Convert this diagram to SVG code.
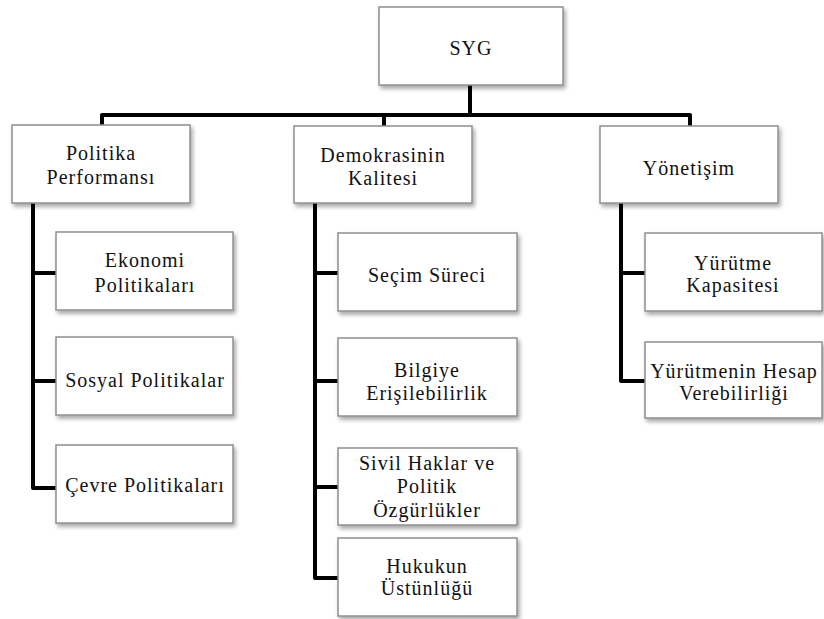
<svg xmlns="http://www.w3.org/2000/svg" width="824" height="619" viewBox="0 0 824 619" font-family="Liberation Serif, Tinos, Times New Roman, serif">
<defs>
<filter id="sh" x="-10%" y="-10%" width="130%" height="140%">
<feDropShadow dx="2" dy="3" stdDeviation="2" flood-color="#000" flood-opacity="0.35"/>
</filter>
</defs>
<style>
.box{fill:#fff;stroke:#8f8f8f;stroke-width:1.5;filter:url(#sh)}
.t{font-size:20px;letter-spacing:1px;fill:#111;text-anchor:middle}
.c{fill:none;stroke:#000;stroke-width:4;stroke-linejoin:round}
</style>
<g id="connectors">
<path class="c" d="M470,85 V115 M102,125 V115 H690 V126 M384,115 V126"/>
<path class="c" d="M33,203 V488 H56 M33,273 H56 M33,381 H56"/>
<path class="c" d="M315,203 V578 H338 M315,273 H338 M315,381 H338 M315,487 H338"/>
<path class="c" d="M621,203 V381 H645 M621,273 H645"/>
</g>
<g id="syg"><rect class="box" x="379" y="7" width="184" height="78"/><text class="t" x="471" y="55">SYG</text></g>
<g id="politika"><rect class="box" x="12" y="125" width="178" height="78"/><text class="t" x="101" y="160">Politika</text><text class="t" x="101" y="184">Performansı</text></g>
<g id="demokrasi"><rect class="box" x="294" y="126" width="178" height="77"/><text class="t" x="383" y="162">Demokrasinin</text><text class="t" x="383" y="185">Kalitesi</text></g>
<g id="yonetisim"><rect class="box" x="600" y="126" width="178" height="77"/><text class="t" x="689" y="175">Yönetişim</text></g>
<g id="ekonomi"><rect class="box" x="56" y="232" width="177" height="78"/><text class="t" x="145" y="267">Ekonomi</text><text class="t" x="145" y="292">Politikaları</text></g>
<g id="sosyal"><rect class="box" x="56" y="337" width="177" height="78"/><text class="t" x="145" y="387">Sosyal Politikalar</text></g>
<g id="cevre"><rect class="box" x="56" y="445" width="177" height="78"/><text class="t" x="145" y="492">Çevre Politikaları</text></g>
<g id="secim"><rect class="box" x="338" y="233" width="179" height="78"/><text class="t" x="427" y="282">Seçim Süreci</text></g>
<g id="bilgi"><rect class="box" x="338" y="338" width="179" height="78"/><text class="t" x="427" y="377">Bilgiye</text><text class="t" x="427" y="400">Erişilebilirlik</text></g>
<g id="sivil"><rect class="box" x="338" y="448" width="179" height="77"/><text class="t" x="427" y="470">Sivil Haklar ve</text><text class="t" x="427" y="493">Politik</text><text class="t" x="427" y="517">Özgürlükler</text></g>
<g id="hukuk"><rect class="box" x="338" y="538" width="179" height="78"/><text class="t" x="427" y="573">Hukukun</text><text class="t" x="427" y="595">Üstünlüğü</text></g>
<g id="yurutme"><rect class="box" x="645" y="233" width="177" height="78"/><text class="t" x="733" y="270">Yürütme</text><text class="t" x="733" y="292">Kapasitesi</text></g>
<g id="hesap"><rect class="box" x="645" y="342" width="177" height="76"/><text class="t" x="734" y="378">Yürütmenin Hesap</text><text class="t" x="734" y="400">Verebilirliği</text></g>
</svg>
